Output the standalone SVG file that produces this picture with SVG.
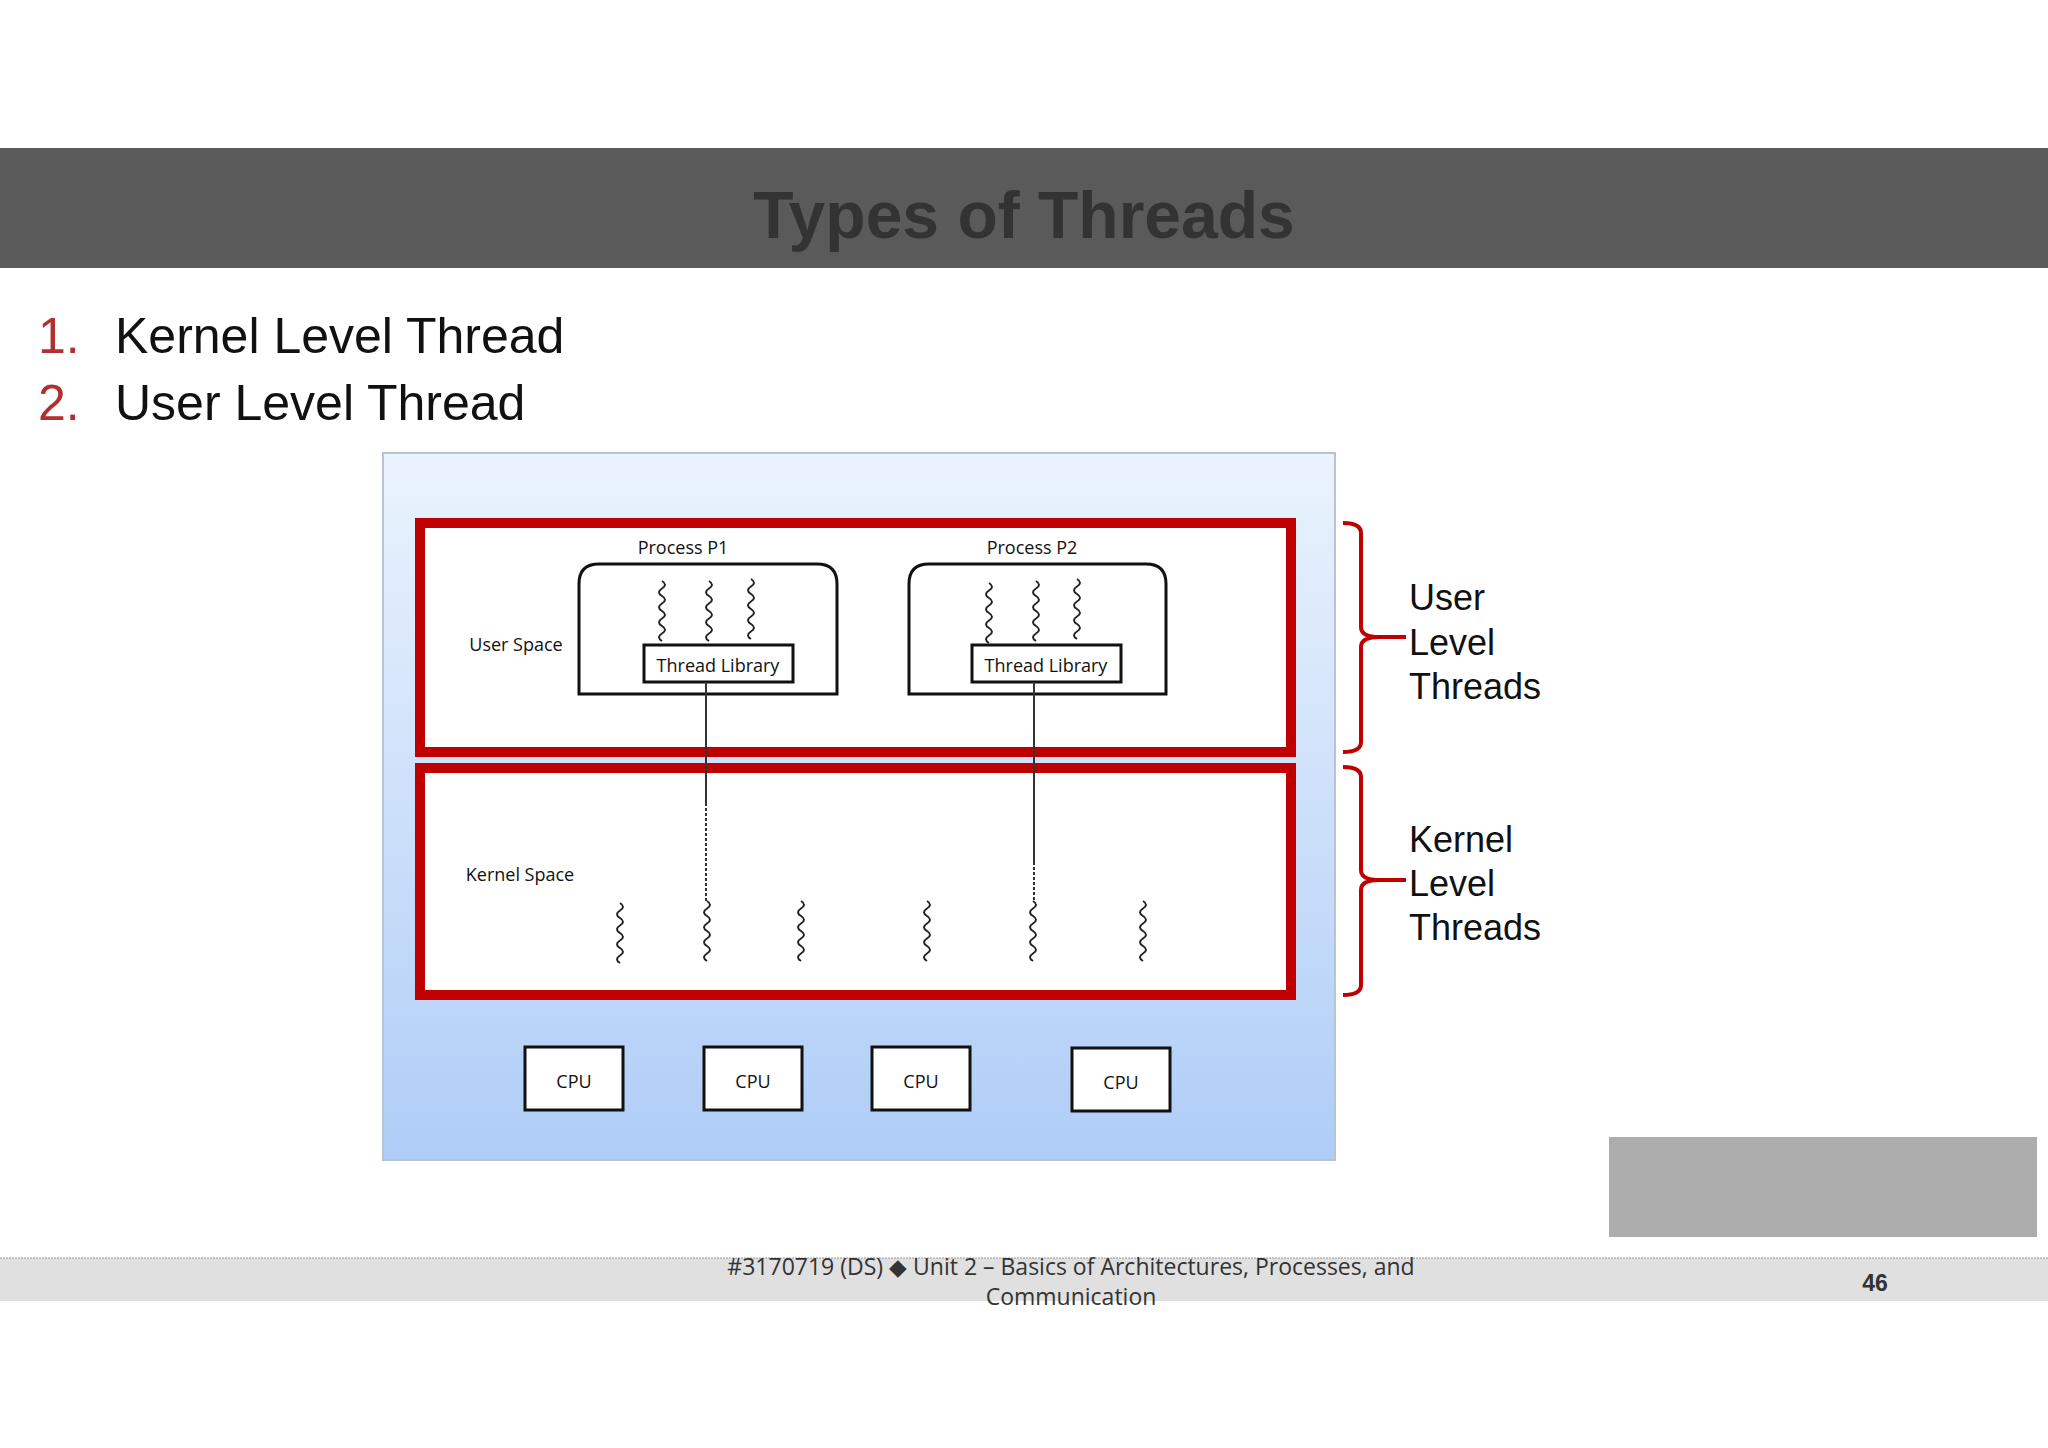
<svg xmlns="http://www.w3.org/2000/svg" xmlns:xlink="http://www.w3.org/1999/xlink" width="2048" height="1448" viewBox="0 0 2048 1448">
<defs>
<style>
.red{fill:#fff;stroke:#c00000;stroke-width:10}
.box{fill:#fff;stroke:#111;stroke-width:3}
.lbl{font-family:"Open Sans","Liberation Sans",sans-serif;font-size:18px;fill:#111;text-anchor:middle}
.side{font-family:"Liberation Sans",Arial,sans-serif;font-size:36px;fill:#111}
.sq{fill:none;stroke:#222;stroke-width:2}
.br{fill:none;stroke:#c00000;stroke-width:4}
</style>
<linearGradient id="bg" x1="0" y1="0" x2="0" y2="1">
<stop offset="0" stop-color="#ebf3fd"/><stop offset="1" stop-color="#afcdf7"/>
</linearGradient>
<path id="w" class="sq" d="M0 0 q6 3.75 0 7.5 t0 7.5 t0 7.5 t0 7.5 t0 7.5 t0 7.5 t0 7.5 t0 7.5"/>
</defs>
<rect width="2048" height="1448" fill="#fff"/>
<g id="title">
<rect x="0" y="148" width="2048" height="120" fill="#5a5a5a"/>
<text x="1024" y="238" font-family="Liberation Sans,Arial,sans-serif" font-size="66" font-weight="bold" fill="#333" text-anchor="middle">Types of Threads</text>
</g>
<g id="list" font-family="Liberation Sans,Arial,sans-serif" font-size="50">
<text x="38" y="353" fill="#b03030">1.</text><text x="115" y="353" fill="#111">Kernel Level Thread</text>
<text x="38" y="420" fill="#b03030">2.</text><text x="115" y="420" fill="#111">User Level Thread</text>
</g>
<g id="panel">
<rect x="383" y="453" width="952" height="707" fill="url(#bg)" stroke="#b8c4d4" stroke-width="2"/>
</g>
<g id="userspace">
<rect class="red" x="420" y="523" width="871" height="229"/>
<text class="lbl" x="516" y="651">User Space</text>
</g>
<g id="kernelspace">
<rect class="red" x="420" y="768" width="871" height="227"/>
<text class="lbl" x="520" y="881">Kernel Space</text>
</g>
<g id="p1">
<text class="lbl" x="683" y="554">Process P1</text>
<path class="box" d="M579 694 V584 q0 -20 20 -20 H817 q20 0 20 20 V694 Z"/>
<use href="#w" x="662" y="581"/><use href="#w" x="709" y="581"/><use href="#w" x="751" y="579"/>
<rect class="box" x="644" y="645" width="149" height="37" stroke-width="2"/>
<text class="lbl" x="718" y="672">Thread Library</text>
</g>
<g id="p2">
<text class="lbl" x="1032" y="554">Process P2</text>
<path class="box" d="M909 694 V584 q0 -20 20 -20 H1146 q20 0 20 20 V694 Z"/>
<use href="#w" x="989" y="583"/><use href="#w" x="1036" y="581"/><use href="#w" x="1077" y="579"/>
<rect class="box" x="972" y="645" width="149" height="37" stroke-width="2"/>
<text class="lbl" x="1046" y="672">Thread Library</text>
</g>
<g id="kthreads">
<use href="#w" x="620" y="903"/><use href="#w" x="707" y="901"/><use href="#w" x="801" y="901"/>
<use href="#w" x="927" y="901"/><use href="#w" x="1033" y="901"/><use href="#w" x="1143" y="901"/>
</g>
<g id="cpus">
<rect class="box" x="525" y="1047" width="98" height="63" stroke-width="2"/><text class="lbl" x="574" y="1088">CPU</text>
<rect class="box" x="704" y="1047" width="98" height="63" stroke-width="2"/><text class="lbl" x="753" y="1088">CPU</text>
<rect class="box" x="872" y="1047" width="98" height="63" stroke-width="2"/><text class="lbl" x="921" y="1088">CPU</text>
<rect class="box" x="1072" y="1048" width="98" height="63" stroke-width="2"/><text class="lbl" x="1121" y="1089">CPU</text>
</g>
<g id="connectors" stroke="#333" stroke-width="2" fill="none">
<path d="M706 682 V803"/><path d="M706 803 V901" stroke-dasharray="3 2"/>
<path d="M1034 682 V862"/><path d="M1034 862 V901" stroke-dasharray="3 2"/>
</g>
<g id="brackets">
<path class="br" d="M1343 523 q18 0 18 10 V627 q0 10 18 10 H1406 M1379 637 q-18 0 -18 10 V742 q0 10 -18 10"/>
<path class="br" d="M1343 767 q18 0 18 10 V870 q0 10 18 10 H1406 M1379 880 q-18 0 -18 10 V985 q0 10 -18 10"/>
<text class="side" x="1409" y="610">User</text><text class="side" x="1409" y="655">Level</text><text class="side" x="1409" y="699">Threads</text>
<text class="side" x="1409" y="852">Kernel</text><text class="side" x="1409" y="896">Level</text><text class="side" x="1409" y="940">Threads</text>
</g>
<g id="logo"><rect x="1609" y="1137" width="428" height="100" fill="#adadad"/></g>
<g id="footer">
<rect x="0" y="1258" width="2048" height="43" fill="#e0e0e0"/>
<line x1="0" y1="1258" x2="2048" y2="1258" stroke="#999" stroke-width="1" stroke-dasharray="2 1"/>
<text x="1071" y="1275" font-family="Open Sans,Liberation Sans,sans-serif" font-size="23" fill="#333" text-anchor="middle">#3170719 (DS)  ◆  Unit 2 – Basics of Architectures, Processes, and</text>
<text x="1071" y="1305" font-family="Open Sans,Liberation Sans,sans-serif" font-size="23" fill="#333" text-anchor="middle">Communication</text>
<text x="1875" y="1291" font-family="Liberation Sans,Arial,sans-serif" font-size="23" font-weight="bold" fill="#333" text-anchor="middle">46</text>
</g>
</svg>
